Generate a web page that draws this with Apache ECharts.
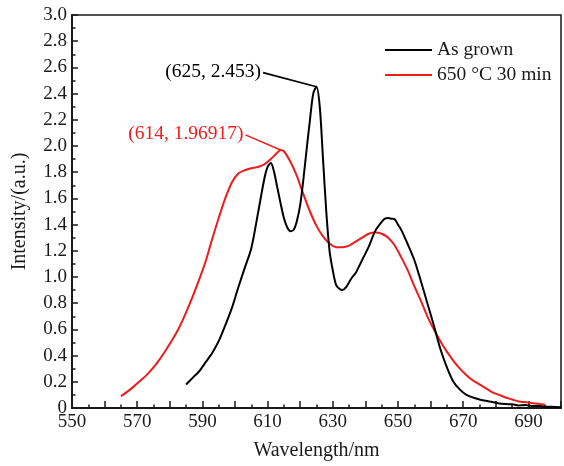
<!DOCTYPE html>
<html>
<head>
<meta charset="utf-8">
<script src="https://cdn.jsdelivr.net/npm/echarts@6/dist/echarts.min.js"></script>
<style>
  html, body { margin: 0; padding: 0; background: #fff; }
  #chart { width: 564px; height: 466px; }
</style>
</head>
<body>
<div id="chart"></div>
<script>
// Photoluminescence spectra: as-grown sample vs. annealed at 650 °C for 30 min
const seriesNames = ['As grown', '650 °C 30 min'];

const grownWavelength = [585, 587, 589, 591, 593, 595, 597, 599, 601, 603, 605, 607, 609, 610, 611, 612, 613, 614, 615, 616, 617, 618, 619, 620, 621, 622, 623, 624, 625, 626, 627, 628, 629, 630, 631, 632, 633, 634, 635, 636, 637, 639, 641, 643, 645, 646, 647, 648, 649, 650, 651, 653, 655, 657, 659, 661, 663, 665, 667, 669, 671, 673, 675, 677, 679, 681, 683, 685, 687, 689, 691, 693, 695, 697, 700];
const grownIntensity = [0.18, 0.23, 0.28, 0.35, 0.42, 0.51, 0.63, 0.76, 0.92, 1.07, 1.22, 1.48, 1.75, 1.84, 1.87, 1.80, 1.68, 1.56, 1.45, 1.38, 1.35, 1.36, 1.43, 1.55, 1.75, 1.98, 2.20, 2.40, 2.453, 2.30, 1.90, 1.50, 1.20, 1.05, 0.94, 0.91, 0.90, 0.92, 0.96, 1.00, 1.03, 1.13, 1.23, 1.35, 1.42, 1.445, 1.45, 1.445, 1.44, 1.40, 1.36, 1.25, 1.13, 0.97, 0.80, 0.63, 0.45, 0.31, 0.20, 0.14, 0.10, 0.08, 0.065, 0.055, 0.045, 0.035, 0.03, 0.028, 0.02, 0.022, 0.015, 0.016, 0.01, 0.01, 0.005];

const annealWavelength = [565, 567, 569, 571, 573, 575, 577, 579, 581, 583, 585, 587, 589, 591, 593, 595, 597, 599, 601, 603, 605, 607, 609, 611, 613, 614, 615, 617, 619, 621, 623, 625, 627, 629, 631, 633, 635, 637, 639, 641, 643, 645, 647, 649, 651, 653, 655, 657, 659, 661, 663, 665, 667, 669, 671, 673, 675, 677, 679, 681, 683, 685, 687, 689, 691, 693, 695];
const annealIntensity = [0.09, 0.125, 0.165, 0.21, 0.255, 0.31, 0.375, 0.45, 0.53, 0.62, 0.73, 0.85, 0.98, 1.12, 1.29, 1.45, 1.60, 1.72, 1.79, 1.815, 1.83, 1.84, 1.86, 1.90, 1.95, 1.96917, 1.96, 1.88, 1.77, 1.63, 1.50, 1.39, 1.31, 1.255, 1.228, 1.228, 1.24, 1.27, 1.30, 1.33, 1.34, 1.33, 1.30, 1.24, 1.15, 1.05, 0.93, 0.82, 0.70, 0.60, 0.51, 0.43, 0.36, 0.30, 0.25, 0.21, 0.18, 0.15, 0.12, 0.10, 0.08, 0.065, 0.05, 0.045, 0.038, 0.032, 0.026];

// Peak call-outs: [wavelength, intensity] and where each label's leader starts
const grownPeak = [625, 2.453];
const grownLabelAnchor = [608.6, 2.56];
const annealPeak = [614, 1.96917];
const annealLabelAnchor = [603.2, 2.085];

const xMin = 550, xMax = 700, xStep = 10;
const yMin = 0, yMax = 3.0, yStep = 0.2;

const FONT = '"Liberation Serif", "Times New Roman", serif';
const INK = '#1a1a1a';

function pairs(xs, ys) { return xs.map((x, i) => [x, ys[i]]); }

function peakCallout(anchor, peak, color) {
  return {
    silent: true,
    symbol: 'none',
    animation: false,
    lineStyle: { color: color, width: 1.6, type: 'solid' },
    label: {
      show: true,
      position: 'start',
      distance: 2,
      color: color,
      fontFamily: FONT,
      fontSize: 19.5,
      formatter: '(' + peak[0] + ', ' + peak[1] + ')'
    },
    emphasis: { disabled: true },
    data: [[{ coord: anchor }, { coord: peak }]]
  };
}

const chart = echarts.init(document.getElementById('chart'), null, { renderer: 'canvas' });

chart.setOption({
  animation: false,
  backgroundColor: '#fff',
  textStyle: { fontFamily: FONT, color: INK },
  grid: {
    left: 72, right: 1, top: 15, bottom: 54,
    show: true, borderColor: INK, borderWidth: 1.5
  },
  legend: {
    orient: 'vertical',
    left: 380, top: 35,
    itemGap: 5,
    itemWidth: 47, itemHeight: 2,
    icon: 'rect',
    textStyle: { fontFamily: FONT, fontSize: 19.5, color: INK },
    data: seriesNames
  },
  xAxis: {
    type: 'value',
    min: xMin, max: xMax, interval: xStep,
    name: 'Wavelength/nm',
    nameLocation: 'middle',
    nameGap: 33,
    nameTextStyle: { fontFamily: FONT, fontSize: 20, color: INK },
    axisLine: { show: true, onZero: false, lineStyle: { color: INK, width: 2 } },
    axisTick: { show: true, inside: true, length: 7, lineStyle: { color: INK, width: 1.5 } },
    minorTick: { show: true, splitNumber: 2, length: 3.5, lineStyle: { color: INK, width: 1.5 } },
    splitLine: { show: false },
    axisLabel: {
      fontFamily: FONT, fontSize: 19, color: INK, margin: 5,
      formatter: v => ((v - xMin) % 20 === 0 && v < xMax) ? String(v) : ''
    }
  },
  yAxis: {
    type: 'value',
    min: yMin, max: yMax, interval: yStep,
    name: 'Intensity/(a.u.)',
    nameLocation: 'middle',
    nameGap: 42,
    nameTextStyle: { fontFamily: FONT, fontSize: 20, color: INK },
    axisLine: { show: true, onZero: false, lineStyle: { color: INK, width: 2 } },
    axisTick: { show: true, inside: true, length: 6, lineStyle: { color: INK, width: 1.5 } },
    minorTick: { show: true, splitNumber: 2, length: 3.5, lineStyle: { color: INK, width: 1.5 } },
    splitLine: { show: false },
    axisLabel: {
      fontFamily: FONT, fontSize: 19, color: INK, margin: 5,
      formatter: v => v === 0 ? '0' : v.toFixed(1)
    }
  },
  series: [
    {
      name: seriesNames[0],
      type: 'line',
      data: pairs(grownWavelength, grownIntensity),
      smooth: 0.3,
      showSymbol: false,
      symbol: 'none',
      color: '#000',
      lineStyle: { color: '#000', width: 2 },
      markLine: peakCallout(grownLabelAnchor, grownPeak, '#000'),
      z: 3
    },
    {
      name: seriesNames[1],
      type: 'line',
      data: pairs(annealWavelength, annealIntensity),
      smooth: 0.3,
      showSymbol: false,
      symbol: 'none',
      color: '#ee1c1c',
      lineStyle: { color: '#ee1c1c', width: 2 },
      markLine: peakCallout(annealLabelAnchor, annealPeak, '#ee1c1c'),
      z: 2
    }
  ]
});
</script>
</body>
</html>
